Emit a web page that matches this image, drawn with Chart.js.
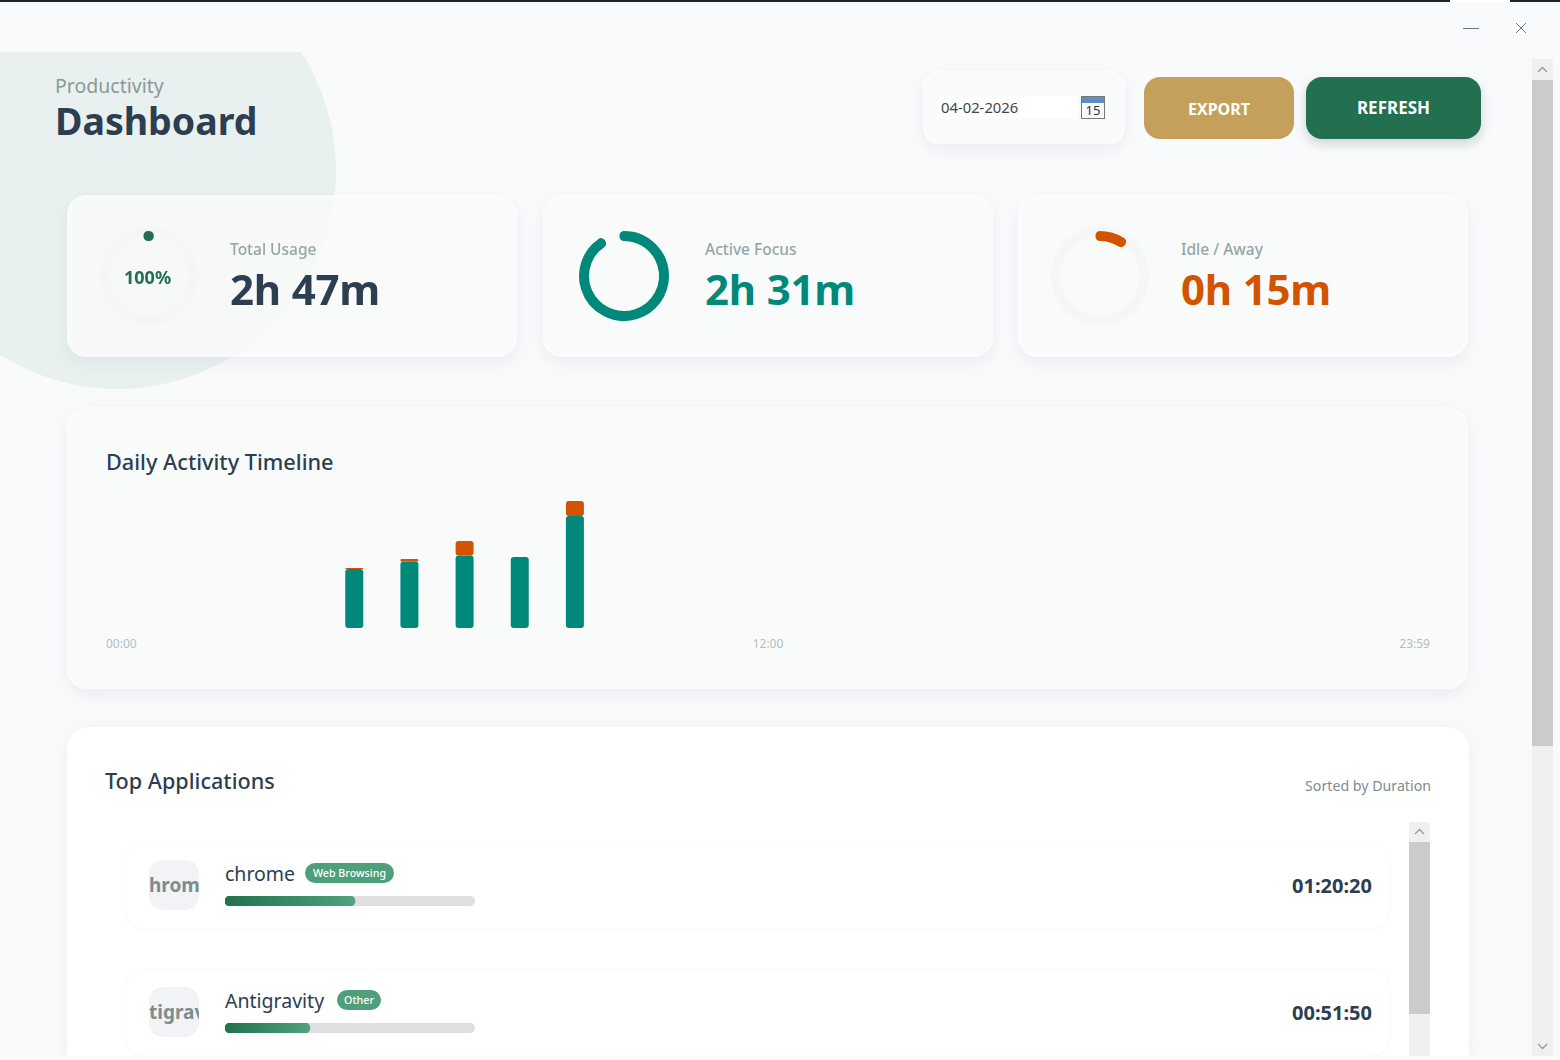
<!DOCTYPE html>
<html>
<head>
<meta charset="utf-8">
<title>Productivity Dashboard</title>
<script src="https://cdn.jsdelivr.net/npm/chart.js@4"></script>
<style>
  html, body { margin: 0; padding: 0; width: 1560px; height: 1060px; overflow: hidden; background: #f9fafc; font-family: "Noto Sans", sans-serif; color: #2c3e50; }
  .abs, .t, canvas { position: absolute; }
  .t { white-space: nowrap; line-height: 1; transform: translateY(-50%); }
  .card { position: absolute; box-sizing: border-box; background: rgba(248,250,249,.85); border-radius: 20px; box-shadow: 0 6px 16px rgba(160,175,190,.16), inset 0 0 10px rgba(255,255,255,.95); }
  .blob { position: absolute; left: -101px; top: -100px; width: 437px; height: 437px; border-radius: 50%; background: #e8f1ef; }
  .track { position: absolute; box-sizing: border-box; width: 98px; height: 98px; border-radius: 50%; border: 9px solid #f5f6f8; }
  .lab { font-size: 15.5px; color: #95a5a6; font-weight: 500; }
  .val { font-size: 42px; font-weight: 700; letter-spacing: -.2px; }
  .row { position: absolute; left: 125px; width: 1265px; height: 87px; box-sizing: border-box; border: 1px solid #fafbfc; border-radius: 18px; background: #fff; box-shadow: 0 1px 3px rgba(200,210,220,.12); }
  .ico { position: absolute; left: 149px; width: 50px; height: 50px; border-radius: 14px; background: #f1f3f7; overflow: hidden; color: #7f8c8d; font-weight: 700; font-size: 19px; line-height: 50px; }
  .ico span { position: absolute; left: 0; white-space: nowrap; }
  .badge { position: absolute; height: 20px; line-height: 20px; text-align: center; border-radius: 10px; background: #4e9f7a; color: #fff; font-size: 10.7px; font-weight: 500; }
  .pbar { position: absolute; left: 225px; width: 250px; height: 10px; border-radius: 5px; background: #dfdfdf; }
  .btn { position: absolute; top: 77px; height: 62px; border-radius: 16px; color: #fff; font-weight: 700; text-align: center; }
  .sb { position: absolute; background: #f0f0f0; }
  .thumb { position: absolute; background: #cbcbcb; }
</style>
</head>
<body>
<div class="abs" style="left:0;top:0;width:1560px;height:2px;background:#1c2530"></div>
<div class="abs" style="left:1450px;top:0;width:60px;height:2px;background:#fff"></div>

<!-- background circle, cut off by the title bar -->
<div class="abs" style="left:0;top:52px;width:400px;height:400px;overflow:hidden"><div class="blob"></div></div>

<!-- window buttons -->
<svg class="abs" style="left:1455px;top:15px" width="80" height="26">
  <line x1="8" y1="13.5" x2="24" y2="13.5" stroke="#63778f" stroke-width="1"/>
  <line x1="61" y1="8" x2="71" y2="18" stroke="#63778f" stroke-width="1"/>
  <line x1="71" y1="8" x2="61" y2="18" stroke="#63778f" stroke-width="1"/>
</svg>

<!-- header -->
<div class="t" style="left:55px;top:86px;font-size:19.5px;color:#8a9a97">Productivity</div>
<div class="t" style="left:55px;top:120.5px;font-size:37.5px;font-weight:700">Dashboard</div>

<div class="card" style="left:923px;top:71px;width:202px;height:73px;border-radius:16px"></div>
<div class="abs" style="left:938px;top:96px;width:140px;height:23px;background:#fff"></div>
<div class="t" style="left:941px;top:107px;font-size:14.8px;color:#444">04-02-2026</div>
<div class="abs" style="left:1081px;top:96px;width:22px;height:21px;border:1px solid #777;background:#fafafa">
  <div style="height:6px;background:#5b8fc4"></div>
  <div style="font-size:13px;line-height:14px;text-align:center;color:#333">15</div>
</div>
<div class="btn" style="left:1144px;width:150px;background:#c4a05a;font-size:16px;line-height:65px">EXPORT</div>
<div class="btn" style="left:1306px;width:175px;background:#22704f;font-size:17px;line-height:62px;box-shadow:0 5px 12px rgba(120,140,140,.35)">REFRESH</div>

<!-- stat cards -->
<div class="card" style="left:67px;top:195px;width:450px;height:162px"></div>
<div class="card" style="left:543px;top:195px;width:450px;height:162px"></div>
<div class="card" style="left:1018px;top:195px;width:450px;height:162px"></div>

<div class="track" style="left:99.5px;top:227px"></div>
<div class="track" style="left:1051px;top:227px"></div>
<canvas id="ringUsage" style="left:93px;top:221px"></canvas>
<canvas id="ringFocus" style="left:569px;top:221px"></canvas>
<canvas id="ringIdle" style="left:1045px;top:221px"></canvas>
<div class="t" style="left:124px;top:277px;font-size:18px;font-weight:700;color:#22704f">100%</div>

<div class="t lab" style="left:230px;top:250px">Total Usage</div>
<div class="t val" style="left:230px;top:289px">2h 47m</div>
<div class="t lab" style="left:705px;top:250px">Active Focus</div>
<div class="t val" style="left:705px;top:289px;color:#00897b">2h 31m</div>
<div class="t lab" style="left:1181px;top:250px">Idle / Away</div>
<div class="t val" style="left:1181px;top:289px;color:#d35400">0h 15m</div>

<!-- timeline -->
<div class="card" style="left:67px;top:407px;width:1401px;height:282px"></div>
<div class="t" style="left:106px;top:462px;font-size:21.7px;font-weight:500">Daily Activity Timeline</div>
<canvas id="timeline" style="left:106px;top:495px"></canvas>
<div id="timelineTicks" class="abs" style="left:106px;top:635px;width:1324px;display:flex;justify-content:space-between;font-size:12px;color:#b5bdbf"></div>

<!-- top applications -->
<div class="abs" style="left:67px;top:727px;width:1402px;height:329px;background:#fff;border-radius:22px 22px 0 0;box-shadow:0 4px 16px rgba(160,175,190,.15)"></div>
<div class="t" style="left:105px;top:781px;font-size:21.6px;font-weight:500">Top Applications</div>
<div class="t" style="right:129px;top:786px;font-size:14.2px;color:#7f8c8d">Sorted by Duration</div>
<div id="appRows"></div>

<div class="sb" style="left:1409px;top:822px;width:21px;height:234px"></div>
<div class="thumb" style="left:1409px;top:842px;width:21px;height:172px"></div>
<svg class="abs" style="left:1409px;top:822px" width="21" height="20"><polyline points="6,12 10.5,7.5 15,12" fill="none" stroke="#999" stroke-width="1.3"/></svg>

<!-- page scrollbar -->
<div class="sb" style="left:1532px;top:59px;width:21px;height:997px"></div>
<div class="thumb" style="left:1532px;top:80px;width:21px;height:666px"></div>
<svg class="abs" style="left:1532px;top:59px" width="21" height="20"><polyline points="6,13 10.5,8.5 15,13" fill="none" stroke="#999" stroke-width="1.3"/></svg>
<svg class="abs" style="left:1532px;top:1036px" width="21" height="20"><polyline points="6,8 10.5,12.5 15,8" fill="none" stroke="#999" stroke-width="1.3"/></svg>
<div class="abs" style="left:0;top:1056px;width:1560px;height:4px;background:#fdfdfd"></div>

<script>
// ---- data ----
var hourLabels = ['00', '01', '02', '03', '04', '05', '06', '07', '08', '09', '10', '11',
                  '12', '13', '14', '15', '16', '17', '18', '19', '20', '21', '22', '23'];
var focusMinutes = [null, null, null, null, 23.5, 26.5, 28.9, 28.3, 44.6, null, null, null,
                    null, null, null, null, null, null, null, null, null, null, null, null];
var idleMinutes = [null, null, null, null, 0.4, 1, 5.8, null, 6, null, null, null,
                   null, null, null, null, null, null, null, null, null, null, null, null];
var timelineTicks = ['00:00', '12:00', '23:59'];

var usageRing = [0.5, 99.5];   // the 100% ring really shows as a single dot
var focusRing = [151, 16];
var idleRing = [15, 152];

var appNames = ['chrome', 'Antigravity'];
var appIcons = ['hrom', 'tigrav'];
var appCategories = ['Web Browsing', 'Other'];
var appDurations = ['01:20:20', '00:51:50'];
var appShares = [52, 34];

// ---- charts ----
var TEAL = '#00897b';
var ORANGE = '#d35400';
var GREEN = '#22704f';

function setSize(canvas, w, h) {
  canvas.width = w;
  canvas.height = h;
  canvas.style.width = w + 'px';
  canvas.style.height = h + 'px';
}

function renderRing(id, values, color) {
  var canvas = document.getElementById(id);
  setSize(canvas, 110, 110);
  new Chart(canvas, {
    type: 'doughnut',
    data: {
      datasets: [{
        data: values,
        backgroundColor: [color, 'rgba(0,0,0,0)'],
        borderColor: [color, 'rgba(0,0,0,0)'],
        borderWidth: [9, 0],
        borderJoinStyle: 'round'
      }]
    },
    options: {
      responsive: false,
      animation: false,
      radius: 40.5,
      cutout: '97.5%',
      plugins: { legend: { display: false }, tooltip: { enabled: false } }
    }
  });
}

renderRing('ringUsage', usageRing, GREEN);
renderRing('ringFocus', focusRing, TEAL);
renderRing('ringIdle', idleRing, ORANGE);

// floating bars: stacked bars in Chart.js only round the outer ends of a stack
var focusRanges = focusMinutes.map(function(v) { return v === null ? null : [0, v]; });
var idleRanges = idleMinutes.map(function(v, i) { return v === null ? null : [focusMinutes[i], focusMinutes[i] + v]; });

var timelineCanvas = document.getElementById('timeline');
setSize(timelineCanvas, 1324, 133);
new Chart(timelineCanvas, {
  type: 'bar',
  data: {
    labels: hourLabels,
    datasets: [
      { label: 'Active', data: focusRanges, backgroundColor: TEAL, borderRadius: 3, borderSkipped: false, barThickness: 18, inflateAmount: 0 },
      { label: 'Idle', data: idleRanges, backgroundColor: ORANGE, borderRadius: 3, borderSkipped: false, barThickness: 18, inflateAmount: 0 }
    ]
  },
  options: {
    responsive: false,
    animation: false,
    plugins: { legend: { display: false }, tooltip: { enabled: false } },
    scales: {
      x: { stacked: true, display: false },
      y: { stacked: false, display: false, min: 0, max: 53 }
    }
  }
});

document.getElementById('timelineTicks').innerHTML = timelineTicks.map(function(t) {
  return '<span>' + t + '</span>';
}).join('');

// app rows, second one sits 127px below the first
var rowsEl = document.getElementById('appRows');
var badgeLeft = [305, 337];
var badgeWidth = [89, 44];
appNames.forEach(function(name, i) {
  var dy = i * 127;
  rowsEl.insertAdjacentHTML('beforeend',
    '<div class="row" style="top:' + (842 + dy) + 'px"></div>' +
    '<div class="ico" style="top:' + (860 + dy) + 'px"><span>' + appIcons[i] + '</span></div>' +
    '<div class="t" style="left:225px;top:' + (874 + dy) + 'px;font-size:19.5px">' + name + '</div>' +
    '<div class="badge" style="left:' + badgeLeft[i] + 'px;width:' + badgeWidth[i] + 'px;top:' + (863 + dy) + 'px">' + appCategories[i] + '</div>' +
    '<div class="pbar" style="top:' + (896 + dy) + 'px"></div>' +
    '<canvas id="appBar' + i + '" style="left:225px;top:' + (896 + dy) + 'px"></canvas>' +
    '<div class="t" style="right:188px;top:' + (885.5 + dy) + 'px;font-size:20px;font-weight:700">' + appDurations[i] + '</div>');
});

appNames.forEach(function(name, i) {
  var canvas = document.getElementById('appBar' + i);
  setSize(canvas, 250, 10);
  new Chart(canvas, {
    type: 'bar',
    data: {
      labels: [name],
      datasets: [{
        data: [appShares[i]],
        borderRadius: 5,
        borderSkipped: false,
        barThickness: 10,
        backgroundColor: function(ctx) {
          var area = ctx.chart.chartArea;
          if (!area) return GREEN;
          var g = ctx.chart.ctx.createLinearGradient(area.left, 0, ctx.chart.scales.x.getPixelForValue(appShares[i]), 0);
          g.addColorStop(0, '#22704f');
          g.addColorStop(1, '#4fa37d');
          return g;
        }
      }]
    },
    options: {
      indexAxis: 'y',
      responsive: false,
      animation: false,
      plugins: { legend: { display: false }, tooltip: { enabled: false } },
      scales: {
        x: { display: false, min: 0, max: 100 },
        y: { display: false }
      }
    }
  });
});
</script>
</body>
</html>
